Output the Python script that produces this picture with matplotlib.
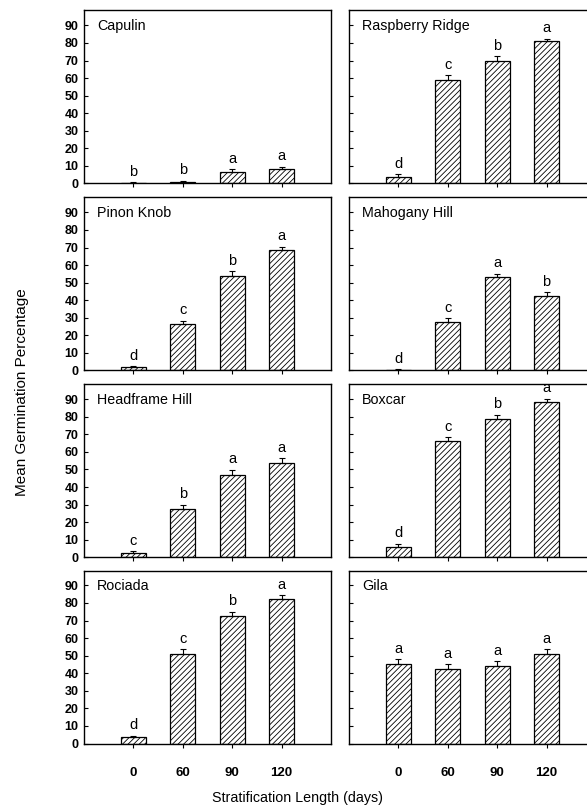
import matplotlib.pyplot as plt
import numpy as np

plt.rcParams['font.family'] = ['Liberation Sans', 'DejaVu Sans']
plt.rcParams['hatch.linewidth'] = 0.6

# === DATA === #
days = ['0', '60', '90', '120']

sites = ['Capulin', 'Raspberry Ridge',
         'Pinon Knob', 'Mahogany Hill',
         'Headframe Hill', 'Boxcar',
         'Rociada', 'Gila']

capulin = [0.3, 1.0, 6.7, 8.3]
capulin_err = [0.3, 0.5, 1.5, 1.3]
capulin_grp = ['b', 'b', 'a', 'a']

raspberry = [3.9, 59.1, 69.6, 81.0]
raspberry_err = [1.3, 2.5, 2.8, 1.5]
raspberry_grp = ['d', 'c', 'b', 'a']

pinon = [1.8, 26.4, 54.0, 68.5]
pinon_err = [0.6, 2.0, 2.4, 1.9]
pinon_grp = ['d', 'c', 'b', 'a']

mahogany = [0.5, 27.5, 53.0, 42.2]
mahogany_err = [0.3, 2.2, 2.0, 2.3]
mahogany_grp = ['d', 'c', 'a', 'b']

headframe = [2.3, 27.6, 47.0, 53.8]
headframe_err = [1.2, 2.3, 2.8, 2.6]
headframe_grp = ['c', 'b', 'a', 'a']

boxcar = [6.0, 66.3, 78.8, 88.3]
boxcar_err = [1.8, 2.0, 2.2, 1.9]
boxcar_grp = ['d', 'c', 'b', 'a']

rociada = [3.5, 50.7, 72.7, 82.1]
rociada_err = [1.0, 3.0, 2.3, 2.3]
rociada_grp = ['d', 'c', 'b', 'a']

gila = [45.5, 42.7, 43.9, 51.0]
gila_err = [2.5, 2.3, 2.8, 2.6]
gila_grp = ['a', 'a', 'a', 'a']

means = [capulin, raspberry, pinon, mahogany, headframe, boxcar, rociada, gila]
errs = [capulin_err, raspberry_err, pinon_err, mahogany_err,
        headframe_err, boxcar_err, rociada_err, gila_err]
groups = [capulin_grp, raspberry_grp, pinon_grp, mahogany_grp,
          headframe_grp, boxcar_grp, rociada_grp, gila_grp]

# === LAYOUT (pixels of the 587x805 figure) === #
W, H = 587, 805
col_left = [84, 349]
row_zero = [183.5, 370.5, 557.3, 743.5]
ax_w, ax_h = 247, 173

fig = plt.figure(figsize=(W / 100, H / 100), dpi=100)

x = np.arange(len(days))
for i in range(8):
    r, c = divmod(i, 2)
    ax = fig.add_axes([col_left[c] / W, 1 - row_zero[r] / H, ax_w / W, ax_h / H])
    m = np.array(means[i])
    e = np.array(errs[i])
    ax.bar(x, m, width=0.5, color='white', edgecolor='black', linewidth=0.9,
           hatch='//////', zorder=2)
    ax.errorbar(x, m, yerr=[np.zeros(4), e], fmt='none', ecolor='black',
                elinewidth=0.8, capsize=2.5, capthick=0.8, zorder=3)
    for xi, yi, ei, g in zip(x, m, e, groups[i]):
        ax.text(xi, yi + ei + 6, g, ha='center', va='center', fontsize=10.5,
                clip_on=False)
    ax.text(0.052, 0.912, sites[i], transform=ax.transAxes, fontsize=10.3,
            ha='left', va='center')
    ax.set_xlim(-1, 4)
    ax.set_ylim(0, 98.5)
    ax.set_yticks(np.arange(0, 91, 10))
    ax.set_xticks(x)
    ax.tick_params(axis='y', direction='in', length=3, width=0.8, pad=4,
                   labelsize=9)
    ax.tick_params(axis='x', direction='out', length=3, width=0.8, pad=14,
                   labelsize=9.5)
    for lab in ax.get_xticklabels() + ax.get_yticklabels():
        lab.set_fontweight('bold')
    if c == 1:
        ax.set_yticklabels([])
    if r < 3:
        ax.set_xticklabels([])
    else:
        ax.set_xticklabels(days, fontweight='bold')
    for s in ax.spines.values():
        s.set_linewidth(1.0)

fig.text(22 / W, 1 - 392 / H, 'Mean Germination Percentage', rotation=90,
         ha='center', va='center', fontsize=11)
fig.text(298 / W, 1 - 798 / H, 'Stratification Length (days)',
         ha='center', va='center', fontsize=10.3)

plt.savefig('out.png', dpi=100)
